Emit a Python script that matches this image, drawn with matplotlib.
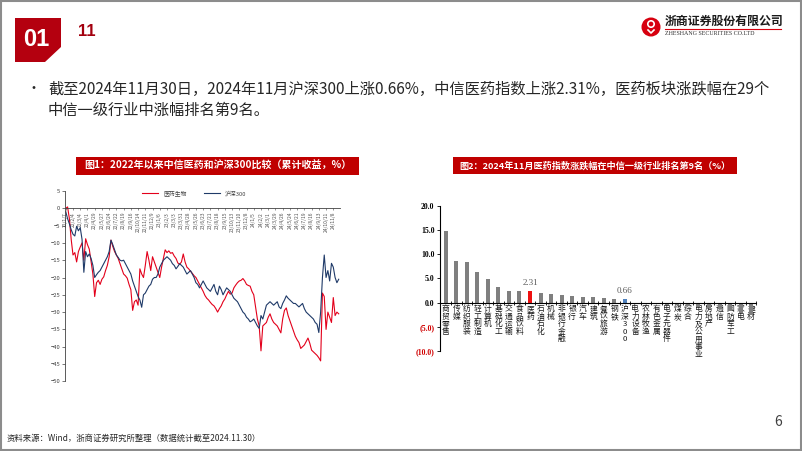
#
# Slide 6: 医药 vs 沪深300 (Zheshang Securities)
#
import numpy as np
import pandas as pd
import matplotlib
matplotlib.use('Agg')
import matplotlib.pyplot as plt
from matplotlib.patches import Polygon, Rectangle, Circle

plt.rcParams['font.family'] = ['Noto Sans CJK SC', 'DejaVu Sans']

W, H = 802, 451

# Fig 1: cumulative return since 2022 (%), weekly readings
weeks = pd.date_range('2022-01-07', periods=152, freq='W-FRI')
pharma = [
    0.0, 0.4, -3.0, -9.0, -13.5, -12.8, -15.5, -12.5, -11.2, -10.0,
    -15.0, -8.8, -10.5, -11.8, -15.5, -19.0, -25.5, -21.5, -20.8, -22.0,
    -20.5, -19.8, -18.0, -16.5, -14.0, -9.2, -11.0, -12.5, -13.5, -14.5,
    -16.0, -17.5, -19.0, -19.5, -20.2, -22.0, -23.5, -29.5, -27.0, -26.5,
    -28.0, -17.5, -19.0, -20.0, -16.5, -12.5, -15.0, -18.0, -14.0, -15.5,
    -17.0, -18.5, -20.0, -17.0, -14.5, -12.0, -12.8, -12.3, -13.0, -12.8,
    -13.8, -14.5, -15.8, -16.2, -15.5, -13.2, -15.5, -17.0, -17.5, -18.2,
    -18.8, -19.5, -20.0, -21.0, -22.0, -23.0, -24.0, -25.2, -26.0, -26.5,
    -27.2, -27.8, -28.2, -29.0, -30.0, -29.0, -28.2, -27.0, -26.2, -25.0,
    -24.0, -24.8, -24.5, -23.0, -22.2, -21.5, -21.0, -20.8, -20.3, -21.0,
    -22.0, -22.3, -22.5, -24.0, -25.0, -28.5, -32.0, -34.0, -41.2, -34.0,
    -33.5, -33.0, -31.5, -30.5, -32.0, -33.0, -33.5, -34.0, -35.0, -36.0,
    -32.0, -29.5, -28.8, -31.0, -32.5, -34.0, -35.5, -37.0, -38.0, -38.8,
    -40.5, -40.0, -39.5, -38.5, -37.5, -39.0, -41.0, -41.5, -42.0, -42.5,
    -43.2, -44.1, -24.5, -25.5, -35.0, -30.0, -31.5, -33.0, -25.8, -31.0,
    -30.0, -30.5,
]
hs300 = [
    -1.0, -3.0, -4.5, -6.2, -7.5, -8.0, -5.2, -6.5, -5.6, -9.0,
    -18.5, -12.5, -14.0, -13.2, -14.5, -16.5, -20.0, -19.2, -18.5, -18.0,
    -17.0, -16.0, -15.0, -14.0, -12.5, -9.2, -10.5, -12.0, -13.5, -14.2,
    -15.0, -15.2, -15.0, -16.0, -17.0, -18.0, -19.0, -21.0, -22.5, -24.0,
    -25.5, -26.5, -28.6, -25.0, -24.5, -23.5, -22.5, -22.0, -20.5, -20.0,
    -20.0, -19.0, -17.0, -16.0, -15.0, -14.5, -14.0, -14.5, -15.0, -16.0,
    -16.5, -17.5, -16.8, -16.0, -16.5, -17.0, -18.0, -19.0, -18.5, -18.0,
    -19.0, -20.0, -21.5, -22.0, -23.0, -22.0, -21.0, -22.0, -23.0, -23.5,
    -24.0, -23.0, -22.0, -24.0, -25.0, -22.5, -23.5, -25.0, -24.0, -23.0,
    -23.5, -24.0, -25.0, -26.0, -26.5, -27.0, -28.0, -29.0, -30.0, -30.5,
    -31.5, -32.0, -32.8, -32.5, -32.0, -33.0, -34.0, -34.7, -31.0, -32.0,
    -30.0, -28.0, -27.5, -27.0, -27.5, -28.0, -27.5, -27.0, -28.5, -29.0,
    -27.5, -26.5, -25.3, -26.0, -26.5, -27.0, -27.5, -27.5, -28.0, -28.5,
    -28.0, -27.5, -29.0, -30.0, -30.5, -31.0, -31.5, -32.0, -33.0, -33.5,
    -35.9, -30.0, -20.0, -13.5, -20.0, -18.0, -21.0, -15.9, -17.0, -20.0,
    -21.5, -20.5,
]

# Fig 2: Nov 2024 change by CITIC level-1 industry (%)
industries = ['商贸零售', '传媒', '纺织服装', '轻工制造', '计算机', '基础化工',
              '交通运输', '食品饮料', '医药', '石油石化', '机械', '非银行金融',
              '银行', '汽车', '建筑', '餐饮旅游', '钢铁', '沪深300', '电力设备',
              '农林牧渔', '有色金属', '电子元器件', '煤炭', '综合', '电力及公用事业',
              '房地产', '通信', '国防军工', '家电', '建材']
change = [14.75, 8.65, 8.37, 6.39, 4.80, 3.30, 2.35, 2.33, 2.31, 1.95,
          1.75, 1.65, 1.40, 1.25, 1.10, 1.00, 0.70, 0.66, -0.10, -0.20,
          -0.30, -0.40, -0.60, -0.80, -1.00, -1.20, -1.40, -1.70, -2.20, -2.60]


def box(x0, y0, x1, y1):
    return [x0 / W, 1 - y1 / H, (x1 - x0) / W, (y1 - y0) / H]


fig = plt.figure(figsize=(W / 100, H / 100), dpi=100)
fig.patch.set_facecolor('white')

# slide decoration in pixel coordinates
ax0 = fig.add_axes([0, 0, 1, 1])
ax0.set_xlim(0, W)
ax0.set_ylim(H, 0)
ax0.axis('off')
ax0.add_patch(Rectangle((0.8, 0.8), W - 1.6, H - 1.6, fill=False, ec='#8c8c8c', lw=1.5))
ax0.add_patch(Polygon([(15, 18), (61, 18), (61, 47), (45, 62), (15, 62)], closed=True,
                      color='#b4000f', lw=0))
ax0.text(36, 39, '01', color='white', fontsize=17, fontweight='bold',
         family='Liberation Sans', ha='center', va='center')
ax0.text(78, 32, '11', color='#a3000e', fontsize=12, fontweight='bold',
         family='Liberation Sans', ha='left', va='center')

# logo
ax0.add_patch(Circle((651, 27), 9.5, color='#d7000f', lw=0))
ax0.add_patch(Circle((651, 24), 3.2, fc='none', ec='white', lw=1.2))
ax0.plot([648, 651, 654], [30, 33, 30], color='white', lw=1.2)
ax0.text(665, 21, '浙商证券股份有限公司', fontsize=8.6, fontweight='bold',
         ha='left', va='center', color='#1a1a1a')
ax0.plot([665, 781], [28.5, 28.5], color='#d7000f', lw=0.8)
ax0.text(665, 33.5, 'ZHESHANG SECURITIES CO.LTD', fontsize=4.3, family='Liberation Serif',
         ha='left', va='center', color='#333333')

# bullet text
ax0.text(34, 89, '•', fontsize=10, ha='center', va='center', color='#262626')
ax0.text(48, 89, '截至2024年11月30日，2024年11月沪深300上涨0.66%，中信医药指数上涨2.31%，医药板块涨跌幅在29个',
         fontsize=11, ha='left', va='center', color='#262626')
ax0.text(48, 110, '中信一级行业中涨幅排名第9名。', fontsize=11, ha='left', va='center',
         color='#262626')

# chart title boxes
ax0.add_patch(Rectangle((76, 157), 283, 18, color='#c00000', lw=0))
ax0.text(217.5, 166, '图1：2022年以来中信医药和沪深300比较（累计收益，%）', color='white',
         fontsize=7.2, fontweight='bold', ha='center', va='center')
ax0.add_patch(Rectangle((453, 157), 284, 17, color='#c00000', lw=0))
ax0.text(595, 165.5, '图2：2024年11月医药指数涨跌幅在中信一级行业排名第9名（%）', color='white',
         fontsize=6.6, fontweight='bold', ha='center', va='center')

# footer
ax0.text(7, 438, '资料来源：Wind，浙商证券研究所整理（数据统计截至2024.11.30）',
         fontsize=6, ha='left', va='center', color='#262626')
ax0.text(778, 422, '6', fontsize=10, ha='center', va='center', color='#404040')

# ---- Fig 1
ax1 = fig.add_axes(box(65, 191, 340, 381.3))
# spine position first: moving a spine resets the ticks
ax1.spines['bottom'].set_position(('data', 0))
for s in ['top', 'right']:
    ax1.spines[s].set_visible(False)
for s in ['bottom', 'left']:
    ax1.spines[s].set_color('#404040')
    ax1.spines[s].set_linewidth(0.6)
ax1.plot(weeks, pharma, color='#e3001b', lw=0.8, label='医药生物')
ax1.plot(weeks, hs300, color='#1f3a68', lw=0.8, label='沪深300')
ax1.set_ylim(-50, 5)
ax1.set_yticks(np.arange(-50, 6, 5))
ax1.set_xlim(weeks[0] - pd.Timedelta(days=3), weeks[-1] + pd.Timedelta(days=5))
tick_dates = weeks[::4]
ax1.set_xticks(tick_dates)
ax1.set_xticklabels([f'{d.year % 100}/{d.month}/{d.day}' for d in tick_dates])
ax1.tick_params(axis='x', length=1.5, width=0.4, pad=1, color='#404040',
                labelsize=3.5, labelrotation=90, labelcolor='#505050')
ax1.tick_params(axis='y', labelsize=4.2, length=2, width=0.5, pad=1.5,
                color='#404040', labelcolor='#404040')
ax1.patch.set_alpha(0)
ax1.legend(loc='upper center', bbox_to_anchor=(0.47, 1.03), ncol=2, frameon=False,
           fontsize=4.2, handlelength=2.8, columnspacing=3, labelcolor='#404040')

# ---- Fig 2
ax2 = fig.add_axes(box(440, 205.7, 756.4, 351))
ax2.spines['bottom'].set_position(('data', 0))
for s in ['top', 'right']:
    ax2.spines[s].set_visible(False)
for s in ['bottom', 'left']:
    ax2.spines[s].set_linewidth(0.8)
x = np.arange(len(industries))
colors = ['#7f7f7f'] * len(industries)
colors[industries.index('医药')] = '#ee1111'
colors[industries.index('沪深300')] = '#4f81bd'
ax2.bar(x, change, width=0.38, color=colors, zorder=2)
ax2.set_xlim(-0.55, 29.5)
ax2.set_ylim(-10, 20)
yt = np.arange(-10, 21, 5)
ax2.set_yticks(yt)
ax2.set_yticklabels([f'{v:.1f}' if v >= 0 else f'({-v:.1f})' for v in yt],
                    family='Liberation Serif', fontweight='bold', fontsize=5.6)
for lab, v in zip(ax2.get_yticklabels(), yt):
    lab.set_color('#d00000' if v < 0 else 'black')
ax2.set_xticks(x)
ax2.set_xticklabels(['\n'.join(n) for n in industries], fontsize=5.6, linespacing=0.92,
                    va='top', color='#1a1a1a')
ax2.set_xticks(x + 0.5, minor=True)
ax2.tick_params(axis='x', which='major', length=0, pad=2)
ax2.tick_params(axis='x', which='minor', length=3, width=0.6, direction='inout')
ax2.tick_params(axis='y', length=2, width=0.6, pad=2)
ax2.patch.set_alpha(0)
for name in ['医药', '沪深300']:
    i = industries.index(name)
    ax2.text(i, change[i] + 0.9, f'{change[i]:.2f}', ha='center', va='bottom',
             fontsize=6.5, family='Liberation Serif', color='#595959')

plt.savefig('out.png', dpi=100)
plt.close()
